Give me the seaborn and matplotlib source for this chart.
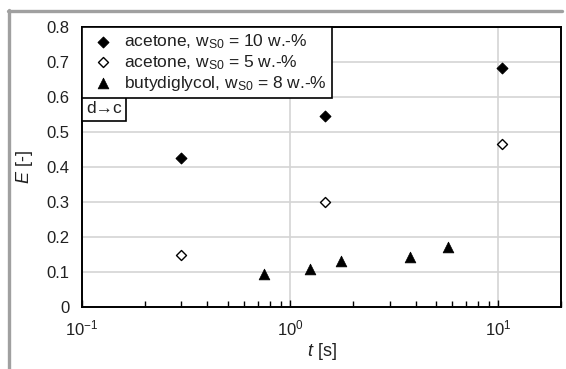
import matplotlib
matplotlib.use("Agg")
import matplotlib.pyplot as plt
import seaborn as sns
import numpy as np
from matplotlib.lines import Line2D
from matplotlib.ticker import LogLocator

sns.set_theme(style="white")
plt.rcParams['font.family'] = ['Liberation Sans', 'DejaVu Sans']
plt.rcParams['mathtext.fontset'] = 'custom'
plt.rcParams['mathtext.rm'] = 'Liberation Sans'
plt.rcParams['mathtext.it'] = 'Liberation Sans:italic'
plt.rcParams['mathtext.default'] = 'regular'

# data
t_ac10 = [0.30, 1.47, 10.4]
E_ac10 = [0.425, 0.545, 0.683]
t_ac5 = [0.30, 1.47, 10.4]
E_ac5 = [0.150, 0.300, 0.465]
t_bdg = [0.75, 1.25, 1.75, 3.75, 5.75]
E_bdg = [0.095, 0.108, 0.132, 0.144, 0.172]
y_ticks = [0, 0.1, 0.2, 0.3, 0.4, 0.5, 0.6, 0.7, 0.8]
y_ticklabels = ['0', '0.1', '0.2', '0.3', '0.4', '0.5', '0.6', '0.7', '0.8']

labels = [r"acetone, w$_{S0}$ = 10 w.-%",
          r"acetone, w$_{S0}$ = 5 w.-%",
          r"butydiglycol, w$_{S0}$ = 8 w.-%"]

fig = plt.figure(figsize=(5.66, 3.69), dpi=100)
ax = fig.add_axes([0.1449, 0.168, 0.9912 - 0.1449, 0.9268 - 0.168])

sns.scatterplot(x=t_ac10, y=E_ac10, marker='D', color='black', s=30,
                edgecolor='black', linewidth=0.8, label=labels[0], ax=ax, zorder=3)
sns.scatterplot(x=t_ac5, y=E_ac5, marker='D', facecolor='white', s=26,
                edgecolor='black', linewidth=1.0, label=labels[1], ax=ax, zorder=3)
sns.scatterplot(x=t_bdg, y=E_bdg, marker='^', color='black', s=60,
                edgecolor='black', linewidth=0.5, label=labels[2], ax=ax, zorder=3)

ax.set_xscale('log')
ax.set_xlim(0.1, 20)
ax.set_ylim(0, 0.8)
ax.set_yticks(y_ticks)
ax.set_yticklabels(y_ticklabels)
ax.xaxis.set_major_locator(LogLocator(base=10, numticks=10))
ax.xaxis.set_minor_locator(LogLocator(base=10, subs=np.arange(2, 10), numticks=10))

ax.grid(True, which='major', color='#d4d4d4', linewidth=1.2)
ax.set_axisbelow(True)
for sp in ax.spines.values():
    sp.set_color('black')
    sp.set_linewidth(1.4)

ax.tick_params(axis='y', length=0, labelsize=12, pad=9, colors='#202020')
ax.tick_params(axis='x', which='major', direction='in', length=5, width=1,
               labelsize=12, pad=8, colors='black', labelcolor='#202020', bottom=True)
ax.tick_params(axis='x', which='minor', direction='in', length=4, width=1,
               bottom=True, colors='black')

ax.set_xlabel(r"$\it{t}$ [s]", fontsize=13, color='#202020', labelpad=2)
ax.set_ylabel(r"$\it{E}$ [-]", fontsize=13, color='#202020', labelpad=8)

leg = ax.legend(loc='upper left', bbox_to_anchor=(0, 1), borderaxespad=0,
                fontsize=12.5, frameon=True, fancybox=False, edgecolor='black',
                handletextpad=0.32, handlelength=1.8, labelspacing=0.12,
                borderpad=0.3, framealpha=1)
leg.get_frame().set_linewidth(1.2)
for txt in leg.get_texts():
    txt.set_color('#202020')

ax.text(0.009, 0.735, "d\u2192c", transform=ax.transAxes, fontsize=12.5,
        ha='left', va='top', color='#202020',
        bbox=dict(boxstyle='square,pad=0.25', facecolor='white',
                  edgecolor='black', linewidth=1.2), zorder=5)

# gray frame lines
W, H = 566, 369
fig.add_artist(Line2D([8 / W, 562 / W], [1 - 10.5 / H, 1 - 10.5 / H],
                      color='#a0a0a0', linewidth=2.4, transform=fig.transFigure))
fig.add_artist(Line2D([8.5 / W, 8.5 / W], [1 - 10 / H, 0],
                      color='#a0a0a0', linewidth=2.4, transform=fig.transFigure))

fig.savefig("out.png", dpi=100)
